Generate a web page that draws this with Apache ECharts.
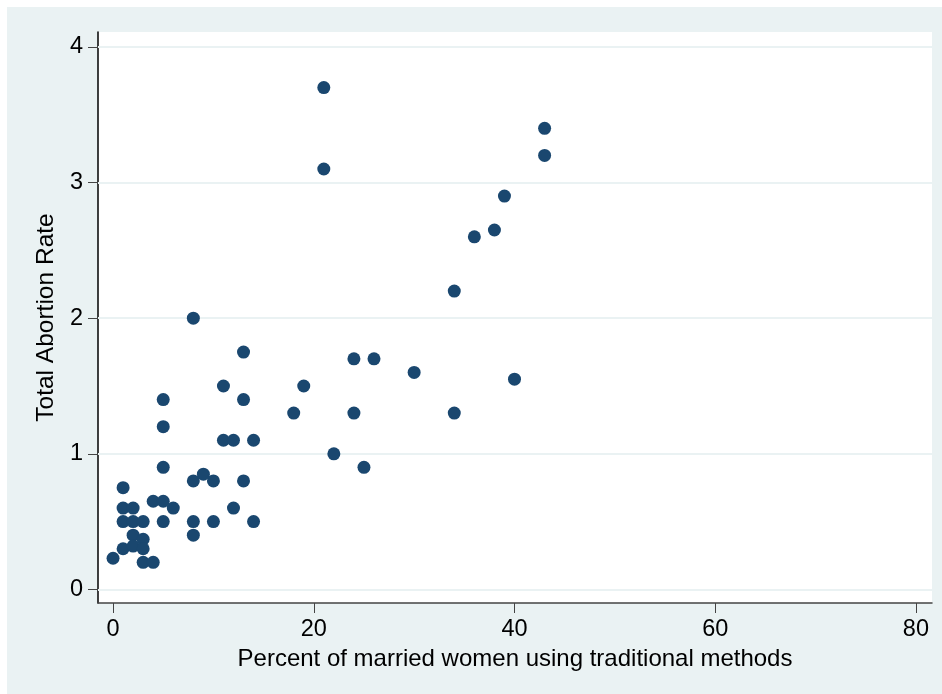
<!DOCTYPE html>
<html lang="en">
<head>
    <meta charset="UTF-8">
    <style>
    html,
    body {
        height: 100%;
        margin: 0;
        background: #fff;
    }
  </style>
</head>
<body>
<div id="chart" style="width:942px;height:694px;"></div>
<script src="https://cdn.jsdelivr.net/npm/echarts@6/dist/echarts.min.js"></script>
<script>
    // percent of married women using traditional methods
    var tradPct = [0, 1, 1, 1, 1, 2, 2, 2, 2, 3, 3, 3, 3, 4, 4, 5, 5, 5, 5, 5, 6,
        8, 8, 8, 8, 9, 10, 10, 11, 11, 12, 12, 13, 13, 13, 14, 14,
        18, 19, 21, 21, 22, 24, 24, 25, 26, 30, 34, 34, 36, 38, 39, 40, 43, 43];
    // total abortion rate
    var abortRate = [0.23, 0.75, 0.6, 0.5, 0.3, 0.6, 0.5, 0.4, 0.32, 0.5, 0.37, 0.3, 0.2, 0.2, 0.65, 0.65, 0.5, 0.9, 1.2, 1.4, 0.6,
        2.0, 0.8, 0.5, 0.4, 0.85, 0.8, 0.5, 1.5, 1.1, 1.1, 0.6, 1.75, 1.4, 0.8, 1.1, 0.5,
        1.3, 1.5, 3.7, 3.1, 1.0, 1.7, 1.3, 0.9, 1.7, 1.6, 2.2, 1.3, 2.6, 2.65, 2.9, 1.55, 3.4, 3.2];
    var xTicks = [0, 20, 40, 60, 80];
    var yTicks = [0, 1, 2, 3, 4];

    var points = tradPct.map((x, i) => [x, abortRate[i]]);
    var font = '"Liberation Sans", Arial, sans-serif';

    var myChart = echarts.init(document.getElementById('chart'));
    myChart.setOption({
        backgroundColor: '#fff',
        animation: false,
        graphic: [{
            type: 'rect',
            z: -10,
            shape: {x: 7, y: 7, width: 935, height: 687},
            style: {fill: '#EAF2F3'}
        }],
        grid: {
            left: 98,
            right: 10,
            top: 32,
            bottom: 91,
            show: true,
            backgroundColor: '#fff',
            borderWidth: 0
        },
        xAxis: {
            type: 'value',
            min: -1.5,
            max: 81.6,
            name: 'Percent of married women using traditional methods',
            nameLocation: 'middle',
            nameGap: 38,
            nameTextStyle: {fontFamily: font, fontSize: 24, color: '#000'},
            axisLine: {onZero: false, lineStyle: {color: '#444', width: 1.5}},
            axisTick: {show: true, length: 10, customValues: xTicks, lineStyle: {color: '#444'}},
            axisLabel: {customValues: xTicks, margin: 15, fontFamily: font, fontSize: 23.5, color: '#000'},
            splitLine: {show: false}
        },
        yAxis: {
            type: 'value',
            min: -0.1,
            max: 4.11,
            name: 'Total Abortion Rate',
            nameLocation: 'middle',
            nameGap: 38,
            nameRotate: 90,
            nameTextStyle: {fontFamily: font, fontSize: 24.5, color: '#000'},
            axisLine: {show: true, onZero: false, lineStyle: {color: '#000', width: 1.5}},
            axisTick: {show: true, length: 10, customValues: yTicks, lineStyle: {color: '#444'}},
            axisLabel: {customValues: yTicks, margin: 15, fontFamily: font, fontSize: 23.5, color: '#000'},
            splitLine: {show: false}
        },
        series: [{
            // gridlines behind the points
            type: 'line',
            data: [],
            z: 1,
            silent: true,
            markLine: {
                silent: true,
                symbol: 'none',
                label: {show: false},
                lineStyle: {color: '#EAF2F3', width: 2, type: 'solid'},
                data: yTicks.map(v => ({yAxis: v}))
            }
        }, {
            type: 'scatter',
            z: 5,
            symbolSize: 13,
            itemStyle: {color: '#1A476F', opacity: 1},
            data: points
        }]
    });
</script>
</body>
</html>
